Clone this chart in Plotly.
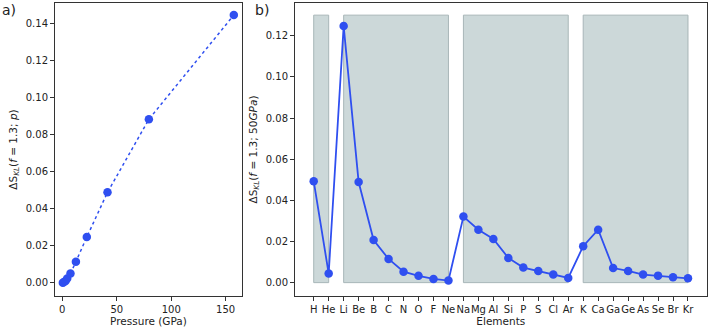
import plotly.graph_objects as go

# Panel a data
pressure = [0.5, 1.5, 3, 4.5, 7.5, 12.5, 22.5, 41.5, 79.5, 157.5]
dskl_p = [0.0, 0.0003, 0.0009, 0.0022, 0.0049, 0.0113, 0.0246, 0.0487, 0.0881, 0.1443]

# Panel b data
elements = ["H", "He", "Li", "Be", "B", "C", "N", "O", "F", "Ne",
            "Na", "Mg", "Al", "Si", "P", "S", "Cl", "Ar",
            "K", "Ca", "Ga", "Ge", "As", "Se", "Br", "Kr"]
dskl_el = [0.0493, 0.0044, 0.1247, 0.0489, 0.0207, 0.0115, 0.0053, 0.0033, 0.0018, 0.0010,
           0.0321, 0.0257, 0.0212, 0.0120, 0.0073, 0.0057, 0.0039, 0.0023,
           0.0177, 0.0257, 0.0071, 0.0057, 0.0039, 0.0034, 0.0026, 0.0021]
# period groups (first, last element) and shaded height
periods = [("H", "He"), ("Li", "Ne"), ("Na", "Ar"), ("K", "Kr")]
shade_top = 0.130

BLUE = "#2f4ff0"
FONT = "DejaVu Sans"
AX = "#333333"

fig = go.Figure()

fig.add_trace(go.Scatter(
    x=pressure, y=dskl_p, mode="lines+markers",
    line=dict(color=BLUE, width=1.5, dash="dot"),
    marker=dict(color=BLUE, size=8.5),
    xaxis="x", yaxis="y", showlegend=False))

fig.add_trace(go.Scatter(
    x=elements, y=dskl_el, mode="lines+markers",
    line=dict(color=BLUE, width=1.8),
    marker=dict(color=BLUE, size=8.5),
    xaxis="x2", yaxis="y2", showlegend=False))

for a, b in periods:
    fig.add_shape(type="rect", xref="x2", yref="y2",
                  x0=elements.index(a), x1=elements.index(b), y0=0, y1=shade_top,
                  fillcolor="#ccd8d9", line=dict(color="#a8b6b8", width=1),
                  layer="below")

axcommon = dict(showline=True, linecolor=AX, linewidth=1, mirror=True,
                ticks="outside", ticklen=4, tickcolor=AX, showgrid=False,
                zeroline=False, automargin=False,
                tickfont=dict(family=FONT, size=10, color="#222"))
ydom = [1 - 296 / 330, 1 - 3 / 330]

fig.update_layout(
    width=709, height=330, margin=dict(l=0, r=0, t=0, b=0),
    paper_bgcolor="white", plot_bgcolor="white",
    font=dict(family=FONT, size=10, color="#222"),
    xaxis=dict(domain=[55 / 709, 242 / 709], range=[-6.7, 165], tickvals=[0, 50, 100, 150],
               title=dict(text="Pressure (GPa)", font=dict(size=10.5), standoff=3), anchor="y", **axcommon),
    yaxis=dict(domain=ydom, range=[-0.0072, 0.1508], tickvals=[0, 0.02, 0.04, 0.06, 0.08, 0.10, 0.12, 0.14],
               tickformat=".2f",
               title=dict(text="ΔS<sub><i>KL</i></sub>(<i>f</i> = 1.3; <i>p</i>)", font=dict(size=10.5), standoff=6),
               anchor="x", **axcommon),
    xaxis2=dict(domain=[295 / 709, 706.7 / 709], type="category", range=[-1.25, 26.25],
                categoryorder="array", categoryarray=elements, tickangle=0,
                title=dict(text="Elements", font=dict(size=10.5), standoff=3), anchor="y2", **axcommon),
    yaxis2=dict(domain=ydom, range=[-0.0065, 0.1359], tickvals=[0, 0.02, 0.04, 0.06, 0.08, 0.10, 0.12],
                tickformat=".2f",
                title=dict(text="ΔS<sub><i>KL</i></sub>(<i>f</i> = 1.3; 50<i>GPa</i>)", font=dict(size=10.5), standoff=6),
                anchor="x2", **axcommon),
    annotations=[
        dict(text="a)", x=0.0, y=1.0, xref="paper", yref="paper", xanchor="left", yanchor="top",
             showarrow=False, font=dict(family=FONT, size=14, color="#222")),
        dict(text="b)", x=253 / 709, y=1.0, xref="paper", yref="paper", xanchor="left", yanchor="top",
             showarrow=False, font=dict(family=FONT, size=14, color="#222")),
    ],
)

fig.write_html("out.html", config={"displayModeBar": False},
               post_script="document.body.style.margin='0';document.body.style.padding='0';")
